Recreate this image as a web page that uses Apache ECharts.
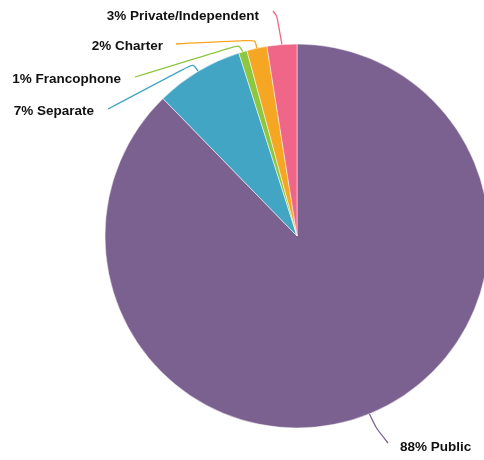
<!DOCTYPE html>
<html><head><meta charset="utf-8">
<script src="https://cdn.jsdelivr.net/npm/echarts@6/dist/echarts.min.js"></script>
<style>html,body{margin:0;padding:0;background:#fff}#c{width:484px;height:460px}</style>
</head><body><div id="c"></div>
<script>
const categories = ['Public', 'Separate', 'Francophone', 'Charter', 'Private/Independent'];
const values = [87.7, 7.4, 0.7, 1.7, 2.5];
const colors = ['#7b6190', '#42a5c4', '#8dc63f', '#f5a623', '#ef6689'];

// label placement (layout only): elbow point, line end point, text anchor, alignment
const labelLayouts = [
  {elbow: [376, 428], end: [388, 443], text: [400, 447], align: 'left'},
  {elbow: [193, 64], end: [108, 109], text: [94, 111], align: 'right'},
  {elbow: [239, 45], end: [135, 77], text: [121, 79], align: 'right'},
  {elbow: [255, 40], end: [176, 44], text: [163, 46], align: 'right'},
  {elbow: [277, 16], end: [273, 11], text: [259, 16], align: 'right'}
];

const chart = echarts.init(document.getElementById('c'), null, {renderer: 'canvas'});
chart.setOption({
  animation: false,
  series: [{
    type: 'pie',
    center: [297, 236],
    radius: [0, 192],
    startAngle: 90,
    clockwise: true,
    avoidLabelOverlap: false,
    data: categories.map((n, i) => ({name: n, value: values[i], itemStyle: {color: colors[i]}})),
    itemStyle: {borderColor: '#fff', borderWidth: 0.5},
    label: {
      formatter: p => Math.round(p.percent) + '% ' + p.name,
      fontFamily: 'Liberation Sans, Arial, sans-serif',
      fontWeight: 'bold',
      fontSize: 13.5,
      color: '#111',
      overflow: 'none'
    },
    labelLine: {length: 10, length2: 60, smooth: 0.25, lineStyle: {width: 1.3}},
    labelLayout: function (params) {
      const L = labelLayouts[params.dataIndex];
      const p0 = params.labelLinePoints ? params.labelLinePoints[0] : L.elbow;
      return {
        x: L.text[0],
        y: L.text[1],
        align: L.align,
        verticalAlign: 'middle',
        labelLinePoints: [p0, L.elbow, L.end]
      };
    },
    emphasis: {disabled: true}
  }]
});
</script></body></html>
